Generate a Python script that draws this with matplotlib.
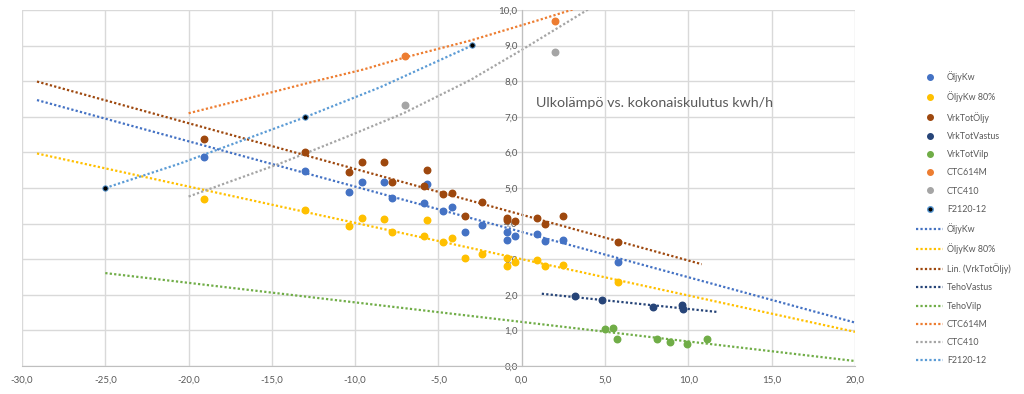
import matplotlib
matplotlib.use("Agg")
import matplotlib.pyplot as plt
from matplotlib.lines import Line2D
from matplotlib.ticker import FuncFormatter, MultipleLocator

plt.rcParams['font.family'] = ['Lato', 'DejaVu Sans']
plt.rcParams['axes.unicode_minus'] = False

# outdoor temperature (x) for the oil-heating days
oljy_x = [-19.1, -13.0, -10.4, -9.6, -8.3, -7.8, -5.9, -5.7, -4.7, -4.2, -3.4, -2.4,
          -0.9, -0.9, -0.4, 0.9, 1.4, 2.5, 5.8]
oljykw = [5.86, 5.47, 4.90, 5.16, 5.16, 4.71, 4.59, 5.10, 4.35, 4.48, 3.77, 3.96,
          3.77, 3.54, 3.65, 3.70, 3.51, 3.55, 2.91]
oljykw80 = [4.69, 4.38, 3.93, 4.15, 4.12, 3.77, 3.66, 4.09, 3.49, 3.60, 3.02, 3.15,
            3.02, 2.82, 2.91, 2.97, 2.82, 2.85, 2.35]
vrk_x = [-19.1, -13.0, -10.4, -9.6, -8.3, -7.8, -5.9, -5.7, -4.7, -4.2, -3.4, -2.4,
         -0.9, -0.9, -0.4, 0.9, 1.4, 2.5, 5.8]
vrktotoljy = [6.38, 6.00, 5.44, 5.73, 5.73, 5.16, 5.06, 5.50, 4.82, 4.87, 4.22, 4.61,
              4.17, 4.10, 4.07, 4.15, 3.99, 4.22, 3.49]
vastus_x = [3.2, 4.8, 7.9, 9.6, 9.7]
vrktotvastus = [1.98, 1.84, 1.67, 1.72, 1.59]
vilp_x = [5.0, 5.5, 5.7, 8.1, 8.9, 9.9, 11.1]
vrktotvilp = [1.03, 1.07, 0.75, 0.75, 0.68, 0.63, 0.76]
ctc_x = [-7.0, 2.0]
ctc614m = [8.71, 9.69]
ctc410 = [7.33, 8.83]
f2120_x = [-25.0, -13.0, -3.0]
f2120 = [5.00, 7.00, 9.02]

# trendlines
tr_oljy_x = [-29.1, 20.0]
tr_oljy_y = [7.47, 1.22]
tr_oljy80_y = [5.97, 0.96]
tr_vrk_x = [-29.1, 10.8]
tr_vrk_y = [7.99, 2.86]
tr_vastus_x = [1.2, 11.7]
tr_vastus_y = [2.03, 1.52]
tr_vilp_x = [-25.0, 20.0]
tr_vilp_y = [2.61, 0.14]
tr_614_x = [-20.0, -16.5, -12.5, -9.5, -7.0, -3.1, 0.9, 3.1]
tr_614_y = [7.10, 7.51, 7.99, 8.33, 8.67, 9.14, 9.70, 10.02]
tr_410_x = [-20.0, -14.5, -10.5, -7.1, -3.1, 0.0, 4.1]
tr_410_y = [4.76, 5.69, 6.44, 7.10, 8.03, 8.88, 10.05]
tr_f_x = [-25.0, -20.5, -13.0, -8.5, -3.0]
tr_f_y = [5.00, 5.69, 6.99, 7.83, 9.00]

c_blue = '#4472C4'
c_yel = '#FFC000'
c_brown = '#9E480E'
c_navy = '#264478'
c_green = '#70AD47'
c_orange = '#ED7D31'
c_gray = '#A5A5A5'
c_light = '#5B9BD5'

fig = plt.figure(figsize=(10.24, 3.94), dpi=100)
ax = fig.add_axes([22/1024, 28/394, 833/1024, 356/394])

dot = (0, (1, 1))
lw = 1.6
ax.plot(tr_oljy_x, tr_oljy_y, color=c_blue, ls=dot, lw=lw)
ax.plot(tr_oljy_x, tr_oljy80_y, color=c_yel, ls=dot, lw=lw)
ax.plot(tr_vrk_x, tr_vrk_y, color=c_brown, ls=dot, lw=lw)
ax.plot(tr_vastus_x, tr_vastus_y, color=c_navy, ls=dot, lw=lw)
ax.plot(tr_vilp_x, tr_vilp_y, color=c_green, ls=dot, lw=lw)
ax.plot(tr_614_x, tr_614_y, color=c_orange, ls=dot, lw=lw)
ax.plot(tr_410_x, tr_410_y, color=c_gray, ls=dot, lw=lw)
ax.plot(tr_f_x, tr_f_y, color=c_light, ls=dot, lw=lw)

ms = 22
ax.scatter(oljy_x, oljykw, s=ms, color=c_blue, zorder=3)
ax.scatter(oljy_x, oljykw80, s=ms, color=c_yel, zorder=3)
ax.scatter(vrk_x, vrktotoljy, s=ms, color=c_brown, zorder=3)
ax.scatter(vastus_x, vrktotvastus, s=ms, color=c_navy, zorder=3)
ax.scatter(vilp_x, vrktotvilp, s=ms, color=c_green, zorder=3)
ax.scatter(ctc_x, ctc614m, s=ms, color=c_orange, zorder=3)
ax.scatter(ctc_x, ctc410, s=ms, color=c_gray, zorder=3)
ax.scatter(f2120_x, f2120, s=15, color='black', edgecolors=c_light, linewidths=0.7, zorder=3)

ax.set_xlim(-30, 20)
ax.set_ylim(0, 10)
ax.xaxis.set_major_locator(MultipleLocator(5))
ax.yaxis.set_major_locator(MultipleLocator(1))
fmt = FuncFormatter(lambda v, p: ('%.1f' % v).replace('.', ','))
ax.xaxis.set_major_formatter(fmt)
ax.yaxis.set_major_formatter(fmt)
ax.grid(True, color='#D9D9D9', lw=1)
ax.set_axisbelow(True)
for s in ['top', 'right']:
    ax.spines[s].set_visible(False)
ax.spines['left'].set_position(('data', 0))
ax.spines['left'].set_color('#BFBFBF')
ax.spines['bottom'].set_color('#BFBFBF')
ax.tick_params(length=0, labelsize=7, labelcolor='#595959')
ax.tick_params(axis='x', pad=7)
ax.tick_params(axis='y', pad=3)

fig.text(655/1024, 1 - 103/394, 'Ulkolämpö vs. kokonaiskulutus kwh/h',
         ha='center', va='center', fontsize=10.3, color='#595959')

names = ['ÖljyKw', 'ÖljyKw 80%', 'VrkTotÖljy', 'VrkTotVastus', 'VrkTotVilp',
         'CTC614M', 'CTC410', 'F2120-12']
mcols = [c_blue, c_yel, c_brown, c_navy, c_green, c_orange, c_gray, 'black']
lnames = ['ÖljyKw', 'ÖljyKw 80%', 'Lin. (VrkTotÖljy)', 'TehoVastus', 'TehoVilp',
          'CTC614M', 'CTC410', 'F2120-12']
lcols = [c_blue, c_yel, c_brown, c_navy, c_green, c_orange, c_gray, c_light]
handles = []
for n, c in zip(names, mcols):
    ec = c_light if c == 'black' else c
    handles.append(Line2D([], [], ls='none', marker='o', ms=4, color=c,
                          markeredgecolor=ec, label=n))
for n, c in zip(lnames, lcols):
    handles.append(Line2D([], [], ls=dot, lw=lw, color=c, label=n))
fig.legend(handles=handles, loc='upper left', bbox_to_anchor=(912/1024, 1 - 67/394),
           frameon=False, fontsize=6.4, labelspacing=1.04, handlelength=3.0,
           handletextpad=0.45, borderpad=0, labelcolor='#595959')

fig.savefig('out.png', dpi=100)
